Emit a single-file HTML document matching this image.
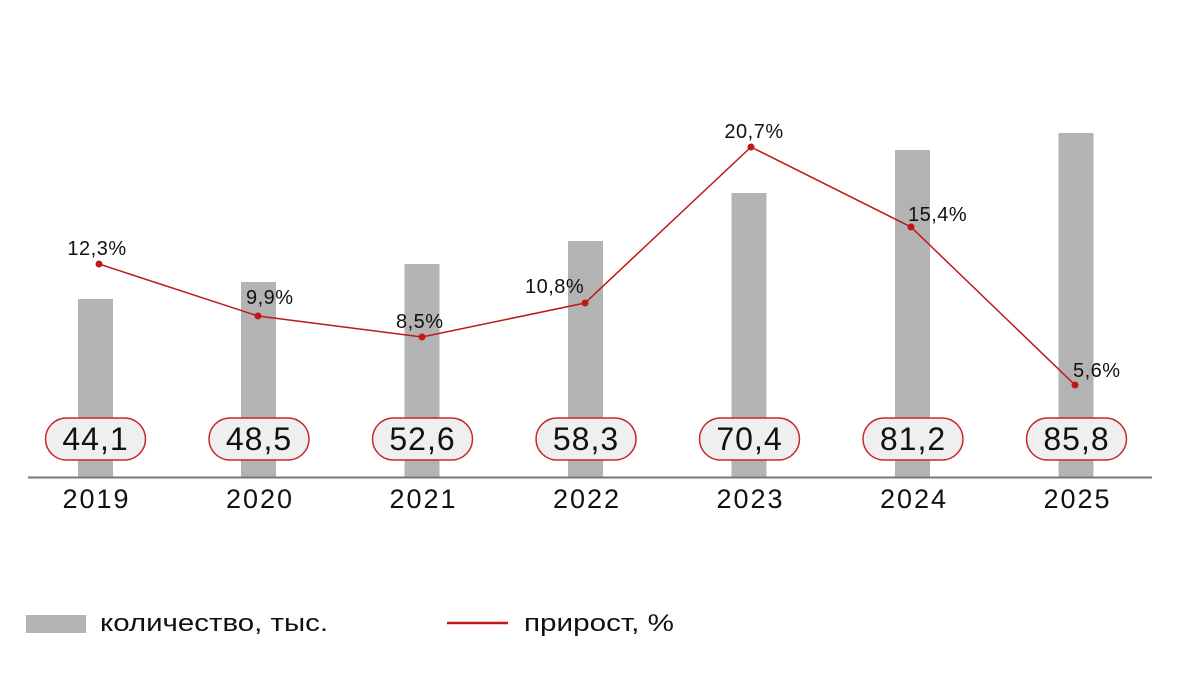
<!DOCTYPE html>
<html><head><meta charset="utf-8"><style>
html,body{margin:0;padding:0;background:#fff}
svg text{font-family:"Liberation Sans","DejaVu Sans",sans-serif;fill:#111}
</style></head><body>
<svg width="1200" height="674" viewBox="0 0 1200 674" xmlns="http://www.w3.org/2000/svg">
<g fill="#b3b3b3">
<rect x="78" y="299" width="35" height="178"/>
<rect x="241" y="282" width="35" height="195"/>
<rect x="404.5" y="264" width="35" height="213"/>
<rect x="568" y="241" width="35" height="236"/>
<rect x="731.5" y="193" width="35" height="284"/>
<rect x="895" y="150" width="35" height="327"/>
<rect x="1058.5" y="133" width="35" height="344"/>
</g>
<line x1="28" y1="477.5" x2="1152" y2="477.5" stroke="#777" stroke-width="2"/>
<g fill="#efefef" stroke="#c62828" stroke-width="1.5">
<rect x="45.5" y="418" width="100" height="42" rx="21"/>
<rect x="209" y="418" width="100" height="42" rx="21"/>
<rect x="372.5" y="418" width="100" height="42" rx="21"/>
<rect x="536" y="418" width="100" height="42" rx="21"/>
<rect x="699.5" y="418" width="100" height="42" rx="21"/>
<rect x="863" y="418" width="100" height="42" rx="21"/>
<rect x="1026.5" y="418" width="100" height="42" rx="21"/>
</g>
<g font-size="32" text-anchor="middle" letter-spacing="1">
<text x="95.5" y="450">44,1</text>
<text x="259" y="450">48,5</text>
<text x="422.5" y="450">52,6</text>
<text x="586" y="450">58,3</text>
<text x="749.5" y="450">70,4</text>
<text x="913" y="450">81,2</text>
<text x="1076.5" y="450">85,8</text>
</g>
<g font-size="27" text-anchor="middle" letter-spacing="2">
<text x="96.5" y="508">2019</text>
<text x="260" y="508">2020</text>
<text x="423.5" y="508">2021</text>
<text x="587" y="508">2022</text>
<text x="750.5" y="508">2023</text>
<text x="914" y="508">2024</text>
<text x="1077.5" y="508">2025</text>
</g>
<polyline points="99,264 258,316 422,337 585,303 751,147 911,227 1075,385" fill="none" stroke="#c01818" stroke-width="1.5"/>
<g fill="#c01818">
<circle cx="99" cy="264" r="3.5"/><circle cx="258" cy="316" r="3.5"/><circle cx="422" cy="337" r="3.5"/><circle cx="585" cy="303" r="3.5"/><circle cx="751" cy="147" r="3.5"/><circle cx="911" cy="227" r="3.5"/><circle cx="1075" cy="385" r="3.5"/>
</g>
<g font-size="20" letter-spacing="0.5">
<text x="97" y="255" text-anchor="middle">12,3%</text>
<text x="246" y="304">9,9%</text>
<text x="396" y="328">8,5%</text>
<text x="525" y="293">10,8%</text>
<text x="754" y="138" text-anchor="middle">20,7%</text>
<text x="908" y="221">15,4%</text>
<text x="1073" y="377">5,6%</text>
</g>
<rect x="26" y="615" width="60" height="18" fill="#b3b3b3"/>
<text x="100" y="631" font-size="24" textLength="228" lengthAdjust="spacingAndGlyphs">количество, тыс.</text>
<line x1="447" y1="623" x2="508" y2="623" stroke="#c01818" stroke-width="2.5"/>
<text x="524" y="631" font-size="24" textLength="150" lengthAdjust="spacingAndGlyphs">прирост, %</text>
</svg>
</body></html>
